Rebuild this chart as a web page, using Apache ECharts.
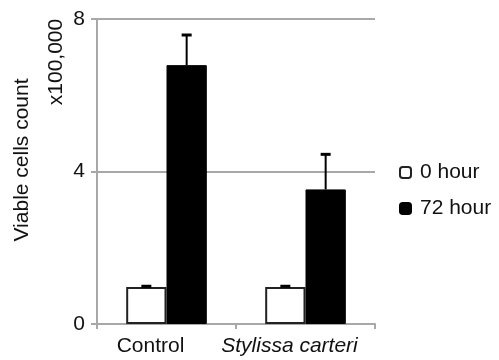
<!DOCTYPE html>
<html>
<head>
<meta charset="utf-8">
<script src="https://cdn.jsdelivr.net/npm/echarts@6/dist/echarts.min.js"></script>
<style>html,body{margin:0;padding:0;background:#fff;}#c{width:499px;height:360px;}</style>
</head>
<body>
<div id="c"></div>
<script>
const categories = ['Control', 'Stylissa carteri'];
const seriesNames = ['0 hour', '72 hour'];
const hour0 = [0.97, 0.97];
const hour0Err = [0.02, 0.02];
const hour72 = [6.79, 3.53];
const hour72Err = [0.79, 0.92];
const yTicks = [0, 4, 8];

const FONT = 'Liberation Sans, Arial, sans-serif';
const FS = 21;
const chart = echarts.init(document.getElementById('c'), null, {renderer: 'canvas'});

function errData(vals, errs, side) {
  return vals.map((v, i) => [i, v, v + errs[i], side]);
}

const errorRender = function (params, api) {
  const idx = api.value(0);
  const top = api.coord([idx, api.value(2)]);
  const base = api.coord([idx, api.value(1)]);
  const band = api.size([1, 0])[0];
  const off = band * 0.145 * api.value(3);
  const x = top[0] + off;
  const cap = 5;
  return {
    type: 'group',
    children: [
      {type: 'line', shape: {x1: x, y1: base[1], x2: x, y2: top[1]}, style: {stroke: '#000', lineWidth: 2}},
      {type: 'line', shape: {x1: x - cap, y1: top[1], x2: x + cap, y2: top[1]}, style: {stroke: '#000', lineWidth: 3}}
    ]
  };
};

const option = {
  animation: false,
  backgroundColor: '#fff',
  grid: {left: 97, right: 124, top: 19, bottom: 36, containLabel: false},
  legend: {
    orient: 'vertical',
    left: 394,
    top: 157,
    itemWidth: 11,
    itemHeight: 11,
    itemGap: 15,
    icon: 'roundRect',
    data: seriesNames,
    textStyle: {fontFamily: FONT, fontSize: FS, color: '#111', padding: [0, 0, 0, 4]}
  },
  xAxis: {
    type: 'category',
    data: categories,
    axisLine: {lineStyle: {color: '#a8a8a8', width: 2}},
    axisTick: {show: true, length: 5, lineStyle: {color: '#a8a8a8', width: 2}},
    axisLabel: {
      interval: 0,
      hideOverlap: false,
      margin: 12,
      fontFamily: FONT,
      fontSize: FS,
      color: '#111',
      padding: [0, 32, 0, 0],
      formatter: function (v) { return v === 'Control' ? v : '{i|' + v + '}'; },
      rich: {i: {fontStyle: 'italic', fontFamily: FONT, fontSize: FS, color: '#111'}}
    }
  },
  yAxis: {
    type: 'value',
    min: yTicks[0],
    max: yTicks[yTicks.length - 1],
    interval: yTicks[1] - yTicks[0],
    axisLine: {show: true, lineStyle: {color: '#a8a8a8', width: 2}},
    axisTick: {show: true, length: 6, lineStyle: {color: '#a8a8a8', width: 2}},
    splitLine: {show: true, lineStyle: {color: '#a8a8a8', width: 2}},
    axisLabel: {margin: 12, fontFamily: FONT, fontSize: FS, color: '#111'}
  },
  graphic: [
    {type: 'text', x: 22, y: 160, rotation: Math.PI / 2,
     style: {text: 'Viable cells count', fontFamily: FONT, fontSize: FS, fill: '#111', textAlign: 'center', textVerticalAlign: 'middle'}},
    {type: 'text', x: 56, y: 62, rotation: Math.PI / 2,
     style: {text: 'x100,000', fontFamily: FONT, fontSize: FS, fill: '#111', textAlign: 'center', textVerticalAlign: 'middle'}}
  ],
  series: [
    {name: seriesNames[0], type: 'bar', data: hour0, barGap: '0%', barCategoryGap: '42%',
     itemStyle: {color: '#fff', borderColor: '#222', borderWidth: 2}},
    {name: seriesNames[1], type: 'bar', data: hour72, barGap: '0%', barCategoryGap: '42%',
     itemStyle: {color: '#000', borderColor: '#000', borderWidth: 1}},
    {type: 'custom', renderItem: errorRender, data: errData(hour0, hour0Err, -1), z: 5, silent: true},
    {type: 'custom', renderItem: errorRender, data: errData(hour72, hour72Err, 1), z: 5, silent: true}
  ]
};
chart.setOption(option);
</script>
</body>
</html>
